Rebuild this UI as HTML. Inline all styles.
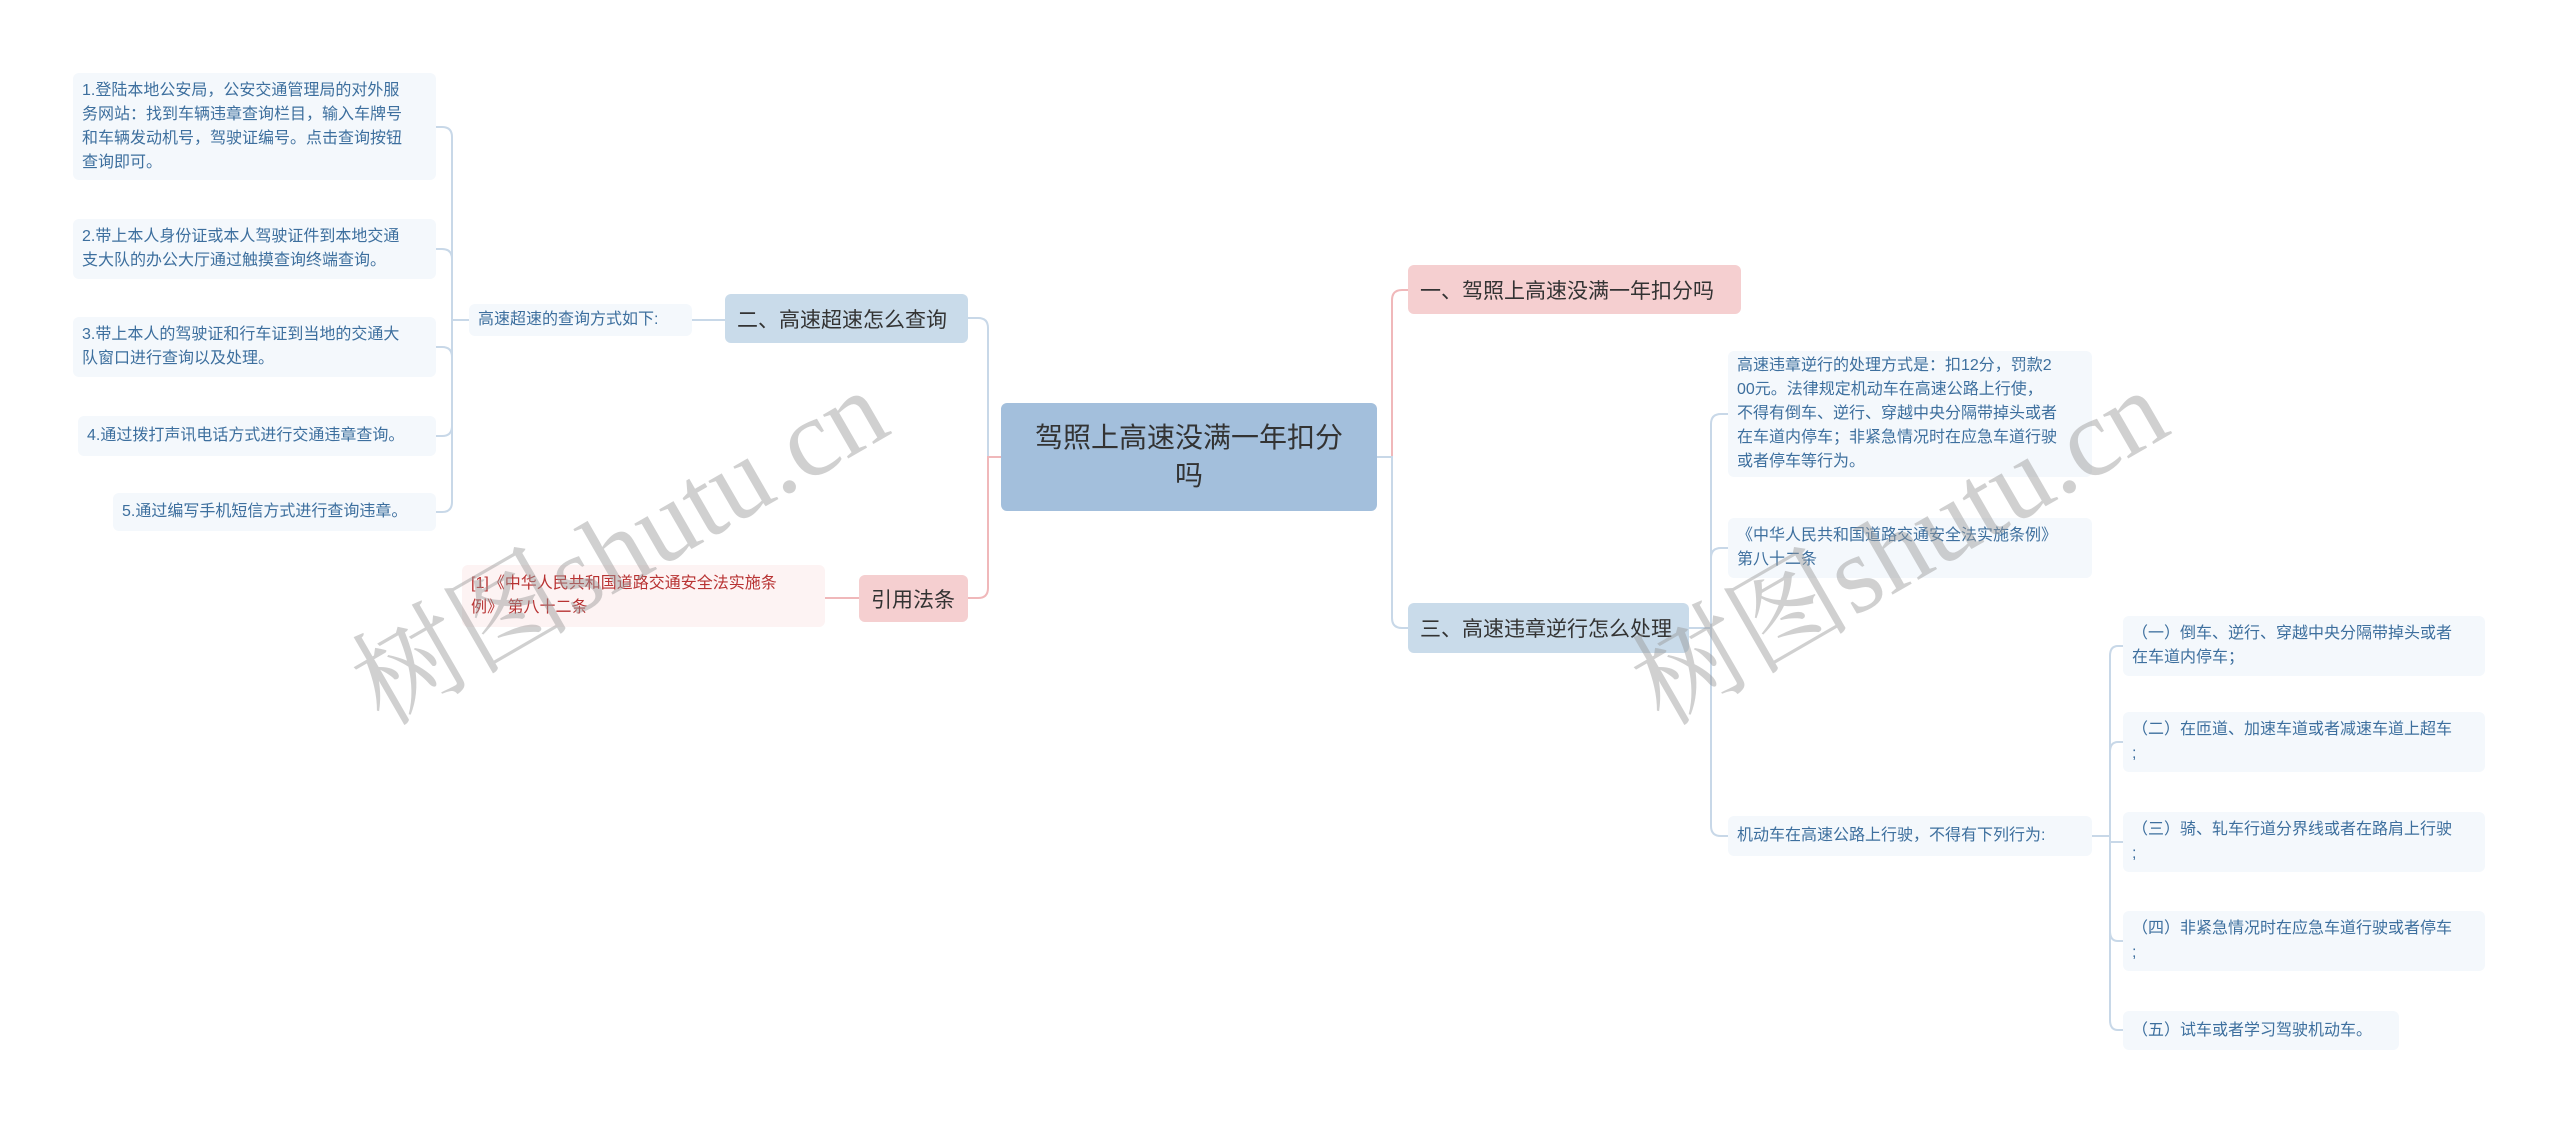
<!DOCTYPE html>
<html><head><meta charset="utf-8"><style>
*{box-sizing:border-box;margin:0;padding:0}
body{width:2560px;height:1124px;background:#fff;position:relative;overflow:hidden;font-family:"Liberation Sans","Noto Sans CJK SC",sans-serif}
.n{position:absolute;border-radius:6px;display:flex;align-items:center}
.leaf{background:#f4f8fc;color:#3d6f9e;font-size:16px;line-height:24px;padding:0 9px;white-space:nowrap}
.l1{font-size:21px;color:#333;padding:0 12px;white-space:nowrap}
.wm{position:absolute;font-family:"Liberation Serif","Noto Serif CJK SC",serif;font-size:110px;color:rgba(150,150,150,.45);transform:rotate(-30deg);white-space:nowrap;transform-origin:center}
</style></head><body>
<svg width="2560" height="1124" style="position:absolute;left:0;top:0">
<g fill="none" stroke-width="2">
<path d="M1377 457 H1392 V300 Q1392 290 1402 290 H1408" stroke="#f0b8ba"/>
<path d="M1377 457 H1392 V618 Q1392 628 1402 628 H1408" stroke="#c8d8e8"/>
<path d="M1001 457 H988 V328 Q988 318 978 318 H968" stroke="#c8d8e8"/>
<path d="M1001 457 H988 V588 Q988 598 978 598 H968" stroke="#f0b8ba"/>
<path d="M725 320 H692" stroke="#c8d8e8"/>
<path d="M859 598 H825" stroke="#f0b8ba"/>
<path d="M469 320 H452 M452 137 V502 M452 137 Q452 127 442 127 H436 M452 259 Q452 249 442 249 H436 M452 357 Q452 347 442 347 H436 M452 426 Q452 436 442 436 H436 M452 502 Q452 512 442 512 H436" stroke="#c8d8e8"/>
<path d="M1689 628 H1711 M1711 424 V826 M1711 424 Q1711 414 1721 414 H1728 M1711 558 Q1711 548 1721 548 H1728 M1711 826 Q1711 836 1721 836 H1728" stroke="#c8d8e8"/>
<path d="M2092 836 H2110 M2110 656 V1020 M2110 656 Q2110 646 2118 646 H2123 M2110 752 Q2110 742 2118 742 H2123 M2110 842 H2123 M2110 931 Q2110 941 2118 941 H2123 M2110 1020 Q2110 1030 2118 1030 H2123" stroke="#c8d8e8"/>
</g></svg>

<div class="n" style="left:1001px;top:403px;width:376px;height:108px;background:#a3bfdc;color:#333;font-size:28px;line-height:38px;justify-content:center;text-align:center;padding:0 20px">驾照上高速没满一年扣分<br>吗</div>
<div class="n l1" style="left:1408px;top:265px;width:333px;height:49px;background:#f5cfd0">一、驾照上高速没满一年扣分吗</div>
<div class="n l1" style="left:1408px;top:603px;width:281px;height:50px;background:#c9dbea">三、高速违章逆行怎么处理</div>
<div class="n l1" style="left:725px;top:294px;width:243px;height:49px;background:#c9dbea">二、高速超速怎么查询</div>
<div class="n l1" style="left:859px;top:575px;width:109px;height:47px;background:#f5cfd0">引用法条</div>

<div class="n leaf" style="left:469px;top:304px;width:223px;height:32px">高速超速的查询方式如下:</div>
<div class="n leaf" style="left:73px;top:73px;width:363px;height:107px">1.登陆本地公安局，公安交通管理局的对外服<br>务网站：找到车辆违章查询栏目，输入车牌号<br>和车辆发动机号，驾驶证编号。点击查询按钮<br>查询即可。</div>
<div class="n leaf" style="left:73px;top:219px;width:363px;height:60px">2.带上本人身份证或本人驾驶证件到本地交通<br>支大队的办公大厅通过触摸查询终端查询。</div>
<div class="n leaf" style="left:73px;top:317px;width:363px;height:60px">3.带上本人的驾驶证和行车证到当地的交通大<br>队窗口进行查询以及处理。</div>
<div class="n leaf" style="left:78px;top:416px;width:358px;height:40px">4.通过拨打声讯电话方式进行交通违章查询。</div>
<div class="n leaf" style="left:113px;top:493px;width:323px;height:38px">5.通过编写手机短信方式进行查询违章。</div>
<div class="n leaf" style="left:462px;top:565px;width:363px;height:62px;background:#fdf3f3;color:#b83232">[1]《中华人民共和国道路交通安全法实施条<br>例》 第八十二条</div>

<div class="n leaf" style="left:1728px;top:351px;width:364px;height:126px">高速违章逆行的处理方式是：扣12分，罚款2<br>00元。法律规定机动车在高速公路上行使，<br>不得有倒车、逆行、穿越中央分隔带掉头或者<br>在车道内停车；非紧急情况时在应急车道行驶<br>或者停车等行为。</div>
<div class="n leaf" style="left:1728px;top:518px;width:364px;height:60px">《中华人民共和国道路交通安全法实施条例》<br>第八十二条</div>
<div class="n leaf" style="left:1728px;top:816px;width:364px;height:40px">机动车在高速公路上行驶，不得有下列行为:</div>
<div class="n leaf" style="left:2123px;top:616px;width:362px;height:60px">（一）倒车、逆行、穿越中央分隔带掉头或者<br>在车道内停车；</div>
<div class="n leaf" style="left:2123px;top:712px;width:362px;height:60px">（二）在匝道、加速车道或者减速车道上超车<br>;</div>
<div class="n leaf" style="left:2123px;top:812px;width:362px;height:60px">（三）骑、轧车行道分界线或者在路肩上行驶<br>;</div>
<div class="n leaf" style="left:2123px;top:911px;width:362px;height:60px">（四）非紧急情况时在应急车道行驶或者停车<br>;</div>
<div class="n leaf" style="left:2123px;top:1011px;width:276px;height:39px">（五）试车或者学习驾驶机动车。</div>

<div class="wm" style="left:320px;top:460px">树图shutu.cn</div>
<div class="wm" style="left:1600px;top:460px">树图shutu.cn</div>
</body></html>
